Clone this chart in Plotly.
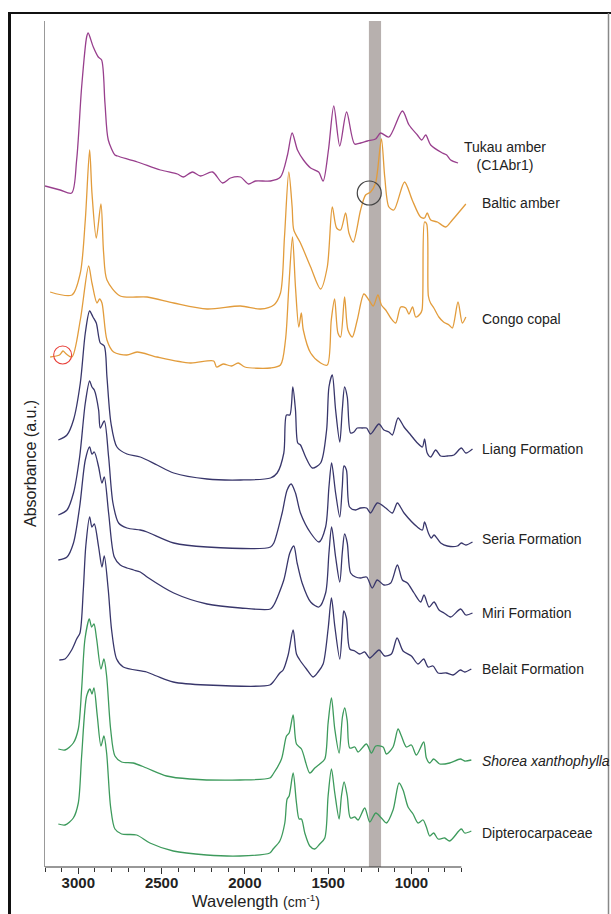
import plotly.graph_objects as go

# ---------------- data (wavenumber cm-1, stacked absorbance a.u.) ----------------
tukau_wn = [3200, 3109, 3040, 3010, 2980, 2950, 2941, 2910, 2880, 2860, 2840, 2820, 2780, 2765, 2645,
            2507, 2405, 2369, 2315, 2266, 2194, 2134, 2086, 2026, 1978, 1936, 1846, 1786, 1744, 1716,
            1684, 1648, 1605, 1557, 1530, 1498, 1466, 1430, 1389, 1341, 1305, 1264, 1215, 1185, 1135,
            1054, 1014, 964, 938, 914, 884, 814, 788, 764, 720]
tukau_ab = [68.0, 67.6, 67.3, 70.6, 77.9, 82.9, 83.3, 81.9, 80.9, 80.6, 76.3, 72.6, 71.1, 71.0, 70.4,
            69.6, 69.2, 68.9, 69.4, 69.0, 69.4, 68.3, 68.8, 68.9, 68.2, 68.5, 68.5, 68.9, 71.1, 73.3,
            71.6, 70.6, 69.8, 69.4, 68.5, 71.6, 76.0, 72.0, 75.4, 72.2, 72.3, 72.5, 72.7, 73.3, 72.9,
            75.5, 74.1, 73.1, 72.6, 73.1, 72.1, 71.3, 71.1, 70.6, 70.3]

baltic_wn = [3169, 3038, 2988, 2958, 2932, 2918, 2892, 2864, 2848, 2828, 2748, 2587, 2427, 2227, 2026,
             1906, 1826, 1786, 1762, 1736, 1716, 1706, 1666, 1605, 1545, 1505, 1475, 1449, 1425, 1395,
             1375, 1349, 1305, 1275, 1245, 1215, 1180, 1160, 1135, 1105, 1041, 995, 945, 921, 905, 884,
             844, 794, 754, 673]
baltic_ab = [57.4, 57.1, 59.3, 64.6, 71.6, 67.3, 62.8, 66.2, 61.3, 58.6, 57.0, 56.9, 56.3, 55.7, 56.0,
             55.7, 56.1, 57.3, 62.9, 69.4, 65.9, 63.6, 62.3, 59.9, 57.7, 59.9, 65.9, 63.8, 63.6, 65.3,
             63.3, 62.4, 65.6, 67.1, 67.4, 68.3, 72.7, 68.9, 65.9, 65.6, 68.4, 66.6, 64.9, 64.8, 65.3, 64.6,
             64.4, 63.9, 64.6, 66.2]

congo_wn = [3169, 3113, 3092, 3072, 3038, 2988, 2938, 2918, 2888, 2872, 2858, 2828, 2788, 2708, 2647,
            2527, 2327, 2187, 2170, 2130, 2080, 2040, 2000, 1846, 1786, 1756, 1736, 1714, 1696, 1676,
            1661, 1649, 1605, 1545, 1505, 1481, 1461, 1441, 1425, 1401, 1381, 1355, 1325, 1285, 1255,
            1229, 1201, 1180, 1154, 1124, 1094, 1064, 1034, 1015, 993, 974, 948, 936, 921, 908, 898,
            885, 865, 835, 807, 774, 754, 720, 694, 673]
congo_ab = [50.9, 51.1, 51.5, 51.2, 50.9, 54.6, 60.0, 58.3, 56.3, 56.7, 56.3, 52.6, 51.4, 51.1, 51.4,
            50.9, 50.3, 50.5, 49.9, 50.2, 50.0, 50.3, 49.9, 49.8, 50.1, 52.6, 57.9, 62.9, 57.9, 53.9,
            55.3, 53.6, 51.3, 50.3, 50.1, 54.6, 56.7, 53.3, 52.9, 56.9, 53.6, 52.9, 54.6, 57.2, 56.6,
            56.0, 57.1, 56.1, 55.6, 54.8, 54.3, 55.9, 55.8, 55.2, 55.9, 54.9, 55.2, 55.6, 64.4, 64.2, 57.0,
            56.3, 55.8, 54.9, 54.4, 54.1, 53.8, 56.4, 54.3, 54.9]

liang_wn = [3120, 3068, 3029, 2988, 2958, 2932, 2912, 2892, 2868, 2844, 2828, 2804, 2768, 2708, 2628,
            2527, 2427, 2227, 2026, 1846, 1806, 1766, 1750, 1730, 1712, 1696, 1682, 1666, 1635, 1595,
            1545, 1509, 1495, 1475, 1455, 1430, 1415, 1401, 1385, 1365, 1345, 1325, 1295, 1269, 1245,
            1195, 1165, 1135, 1114, 1080, 1044, 1004, 964, 934, 921, 905, 884, 854, 824, 784, 744, 700,
            673, 633]
liang_ab = [42.6, 43.1, 44.6, 48.3, 53.3, 55.5, 54.9, 54.3, 52.3, 52.0, 48.9, 44.3, 41.9, 41.2, 40.9,
            40.1, 39.3, 38.7, 38.6, 38.8, 39.3, 41.3, 45.1, 45.1, 47.9, 45.6, 42.3, 42.1, 40.9, 39.8,
            40.3, 43.6, 47.9, 49.1, 45.6, 42.4, 45.6, 47.9, 46.9, 43.3, 43.4, 43.8, 43.8, 43.8, 43.2,
            44.2, 43.6, 43.4, 43.1, 44.8, 43.9, 43.1, 42.3, 41.9, 42.7, 41.3, 40.9, 41.6, 41.0, 41.0, 41.1, 41.8,
            41.3, 41.7]

seria_wn = [3120, 3068, 3029, 2992, 2958, 2932, 2918, 2904, 2878, 2868, 2844, 2818, 2792, 2758, 2708,
            2628, 2587, 2427, 2227, 1846, 1826, 1776, 1746, 1722, 1696, 1666, 1605, 1555, 1515, 1495,
            1479, 1455, 1430, 1415, 1405, 1390, 1371, 1335, 1305, 1269, 1245, 1205, 1154, 1114, 1084,
            1044, 964, 934, 921, 898, 880, 864, 824, 784, 724, 700, 673, 633]
seria_ab = [35.1, 35.6, 37.3, 40.9, 46.3, 48.5, 47.9, 47.6, 45.6, 43.8, 44.5, 40.9, 36.3, 34.3, 33.8,
            33.6, 33.4, 32.3, 31.9, 31.9, 32.3, 35.3, 37.6, 38.2, 37.3, 35.3, 33.3, 32.4, 33.9, 37.9,
            40.3, 37.3, 34.9, 37.9, 40.0, 39.6, 35.9, 35.6, 35.8, 35.8, 35.3, 36.3, 35.8, 35.3, 36.3,
            35.3, 33.9, 33.6, 34.4, 33.3, 32.8, 33.1, 32.3, 32.0, 32.0, 32.3, 32.1, 32.4]

miri_wn = [3120, 3068, 3029, 2992, 2958, 2932, 2918, 2904, 2878, 2858, 2844, 2818, 2784, 2748, 2708,
           2668, 2628, 2587, 2427, 2227, 2026, 1846, 1826, 1766, 1730, 1706, 1686, 1656, 1605, 1555,
           1515, 1495, 1479, 1455, 1430, 1415, 1401, 1385, 1365, 1335, 1305, 1269, 1235, 1205, 1165,
           1124, 1084, 1054, 1024, 984, 944, 924, 894, 864, 834, 804, 764, 704, 673, 633]
miri_ab = [30.6, 30.9, 32.3, 35.9, 40.6, 41.9, 41.2, 41.4, 39.9, 38.3, 38.9, 35.3, 30.9, 30.1, 29.8,
           29.6, 29.4, 28.9, 27.3, 26.2, 25.8, 25.7, 26.1, 28.6, 31.3, 32.0, 30.3, 28.3, 26.4, 25.9,
           27.3, 31.3, 33.9, 30.9, 28.4, 31.3, 33.2, 32.3, 29.3, 28.9, 28.8, 28.9, 27.8, 28.6, 28.1,
           28.3, 30.1, 28.6, 28.3, 27.3, 26.4, 27.1, 25.9, 26.4, 25.6, 25.3, 24.9, 25.7, 25.1, 25.3]

belait_wn = [3114, 3080, 3040, 3010, 2990, 2970, 2955, 2932, 2918, 2904, 2878, 2858, 2844, 2820, 2800,
             2770, 2730, 2590, 2530, 2430, 2230, 1850, 1830, 1790, 1770, 1740, 1710, 1690, 1670, 1630,
             1590, 1560, 1530, 1500, 1480, 1460, 1430, 1414, 1406, 1390, 1370, 1340, 1310, 1280, 1250,
             1194, 1160, 1120, 1086, 1050, 1000, 960, 926, 900, 870, 840, 790, 750, 706, 680, 640]
belait_ab = [20.6, 20.7, 21.6, 22.7, 23.3, 27.6, 32.0, 34.9, 33.9, 34.2, 31.9, 29.9, 31.0, 27.6, 23.6,
             20.7, 19.9, 19.4, 19.0, 18.4, 18.1, 18.1, 18.4, 19.3, 19.6, 21.1, 23.6, 21.2, 20.6, 19.7,
             18.9, 19.4, 20.2, 23.7, 26.8, 24.0, 20.7, 24.0, 25.5, 24.8, 21.7, 21.5, 21.2, 21.4, 20.8,
             21.6, 21.0, 21.2, 22.8, 21.5, 21.0, 20.2, 20.7, 19.9, 20.0, 19.3, 19.3, 19.1, 19.6, 19.4, 19.7]

shorea_wn = [3120, 3080, 3030, 3000, 2980, 2960, 2934, 2920, 2906, 2890, 2864, 2846, 2830, 2806, 2780,
             2740, 2670, 2590, 2470, 2330, 2030, 1850, 1830, 1780, 1750, 1734, 1710, 1690, 1660, 1610,
             1580, 1550, 1520, 1500, 1480, 1460, 1434, 1414, 1400, 1385, 1370, 1340, 1320, 1270, 1240,
             1214, 1170, 1150, 1110, 1080, 1060, 1030, 1000, 970, 926, 910, 890, 866, 830, 770, 706, 680, 640]
shorea_ab = [11.7, 11.6, 12.3, 13.7, 17.7, 22.7, 24.7, 23.9, 24.2, 22.7, 19.7, 20.7, 19.0, 13.7, 11.0,
             10.4, 10.3, 9.8, 9.0, 8.7, 8.6, 8.8, 9.2, 10.7, 13.0, 13.3, 15.1, 12.2, 11.7, 9.3,
             9.8, 10.2, 10.7, 14.3, 16.8, 13.7, 11.3, 14.9, 15.8, 14.5, 11.8, 11.9, 11.4, 12.2, 11.3,
             12.0, 11.9, 11.2, 11.9, 13.7, 13.0, 11.9, 12.1, 11.1, 12.4, 10.8, 10.3, 10.7, 10.2, 10.3, 10.7, 10.5, 10.6]

dipt_wn = [3120, 3080, 3030, 3000, 2980, 2950, 2930, 2918, 2906, 2886, 2864, 2846, 2830, 2806, 2780,
           2740, 2650, 2570, 2430, 2230, 2030, 1850, 1830, 1790, 1760, 1746, 1734, 1710, 1690, 1674,
           1660, 1640, 1610, 1580, 1550, 1520, 1500, 1480, 1460, 1434, 1420, 1404, 1385, 1366, 1340,
           1320, 1280, 1250, 1214, 1180, 1150, 1110, 1074, 1050, 1020, 990, 960, 930, 910, 890, 866,
           840, 800, 770, 700, 680, 640]
dipt_ab = [4.2, 4.1, 4.8, 6.3, 11.0, 17.0, 17.7, 17.2, 17.8, 15.0, 12.0, 13.0, 11.3, 5.9, 3.7,
           3.2, 3.1, 2.3, 1.5, 1.1, 1.0, 1.3, 1.7, 2.5, 4.3, 6.7, 7.0, 9.3, 6.3, 4.7,
           4.7, 3.3, 2.0, 1.7, 2.2, 2.8, 7.0, 9.7, 7.3, 4.7, 7.0, 8.4, 7.0, 4.8, 4.9,
           4.6, 5.8, 4.4, 5.3, 4.8, 4.3, 5.6, 8.3, 7.6, 5.9, 5.2, 4.3, 4.6, 3.9, 3.0, 3.3,
           2.7, 2.8, 2.5, 3.7, 3.3, 3.5]

series_names = ["Tukau amber<br>(C1Abr1)", "Baltic amber", "Congo copal", "Liang Formation",
                "Seria Formation", "Miri Formation", "Belait Formation",
                "<i>Shorea xanthophylla</i>", "Dipterocarpaceae"]
label_levels = [70.97, 66.27, 54.7, 41.67, 32.67, 25.33, 19.67, 10.53, 3.33]

major_ticks = [3000, 2500, 2000, 1500, 1000]
major_labels = ["3000", "2500", "2000", "1500", "1000"]
minor_ticks = list(range(3200, 690, -100))

band_range = [1255, 1182]

# ---------------- figure ----------------
PURPLE = "#983f8d"
ORANGE = "#e29c3c"
NAVY = "#38366b"
GREEN = "#3d9a5c"

spectra = [
    (tukau_wn, tukau_ab, PURPLE),
    (baltic_wn, baltic_ab, ORANGE),
    (congo_wn, congo_ab, ORANGE),
    (liang_wn, liang_ab, NAVY),
    (seria_wn, seria_ab, NAVY),
    (miri_wn, miri_ab, NAVY),
    (belait_wn, belait_ab, NAVY),
    (shorea_wn, shorea_ab, GREEN),
    (dipt_wn, dipt_ab, GREEN),
]

fig = go.Figure()
for (wn, ab, col), name in zip(spectra, series_names):
    fig.add_trace(go.Scatter(x=wn, y=ab, mode="lines", name=name, hoverinfo="skip",
                             line=dict(color=col, width=1.3, shape="spline", smoothing=0.8)))

FONT = "Liberation Sans, Arial, sans-serif"
L, R, T, B = 45, 138, 21, 47
W, H = 611, 914
pw, ph = W - L - R, H - T - B

def px(xpix):
    return (xpix - L) / pw

def py(ypix):
    return (H - B - ypix) / ph

annotations = []
for i, (name, lvl) in enumerate(zip(series_names, label_levels)):
    if i == 0:
        annotations.append(dict(x=px(505), y=lvl, xref="paper", yref="y", text=name, showarrow=False,
                                xanchor="center", yanchor="middle", align="center",
                                font=dict(family=FONT, size=14, color="#222")))
    else:
        annotations.append(dict(x=px(480), y=lvl, xref="paper", yref="y", text=name, showarrow=False,
                                xanchor="left", yanchor="middle",
                                font=dict(family=FONT, size=14, color="#222")))

annotations.append(dict(x=px(256), y=py(901), xref="paper", yref="paper", showarrow=False,
                        text="Wavelength <span style='font-size:14px'>(cm<sup>-1</sup>)</span>",
                        xanchor="center", yanchor="middle",
                        font=dict(family=FONT, size=16.5, color="#222")))
annotations.append(dict(x=px(30), y=py(464), xref="paper", yref="paper", showarrow=False,
                        text="Absorbance (a.u.)", textangle=-90,
                        xanchor="center", yanchor="middle",
                        font=dict(family=FONT, size=16, color="#222")))

shapes = [
    dict(type="rect", xref="x", yref="paper", x0=band_range[0], x1=band_range[1], y0=0, y1=1,
         fillcolor="#b7b0ae", line=dict(width=0), layer="below"),
    dict(type="line", xref="x", yref="paper", x0=3200, x1=700, y0=0, y1=0,
         line=dict(color="#333", width=1.2)),
    dict(type="circle", xref="x", yref="y", x0=1253 + 72, x1=1253 - 72, y0=67.3 - 1.2, y1=67.3 + 1.2,
         line=dict(color="#444", width=1.2)),
    dict(type="circle", xref="x", yref="y", x0=3094 + 54, x1=3094 - 54, y0=51.1 - 0.9, y1=51.1 + 0.9,
         line=dict(color="#e8413a", width=1.1)),
    # outer frame
    dict(type="line", xref="paper", yref="paper", x0=px(9.5), x1=px(9.5), y0=py(12.5), y1=py(920),
         line=dict(color="#111", width=3)),
    dict(type="line", xref="paper", yref="paper", x0=px(8), x1=px(615), y0=py(13), y1=py(13),
         line=dict(color="#111", width=2)),
    dict(type="line", xref="paper", yref="paper", x0=px(608.5), x1=px(608.5), y0=py(13), y1=py(920),
         line=dict(color="#888", width=1.5)),
]

fig.update_layout(
    width=W, height=H,
    margin=dict(l=L, r=R, t=T, b=B),
    paper_bgcolor="white", plot_bgcolor="white",
    showlegend=False,
    annotations=annotations,
    shapes=shapes,
    xaxis=dict(range=[3200, 630], tickmode="array", tickvals=major_ticks, ticktext=major_labels,
               ticks="outside", ticklen=6, tickwidth=1, tickcolor="#333", ticklabelstandoff=-4,
               tickfont=dict(family=FONT, size=15, color="#222", weight="bold"),
               showline=False, showgrid=False, zeroline=False,
               minor=dict(tickmode="array", tickvals=minor_ticks, ticks="outside", ticklen=4,
                          tickwidth=1, tickcolor="#333", showgrid=False)),
    yaxis=dict(range=[-0.1, 84.5], showticklabels=False, ticks="", showgrid=False, zeroline=False,
               showline=True, linecolor="#999", linewidth=1),
)

fig.write_html("out.html", config={"displayModeBar": False},
               post_script="document.body.style.margin='0';document.body.style.overflow='hidden';")
